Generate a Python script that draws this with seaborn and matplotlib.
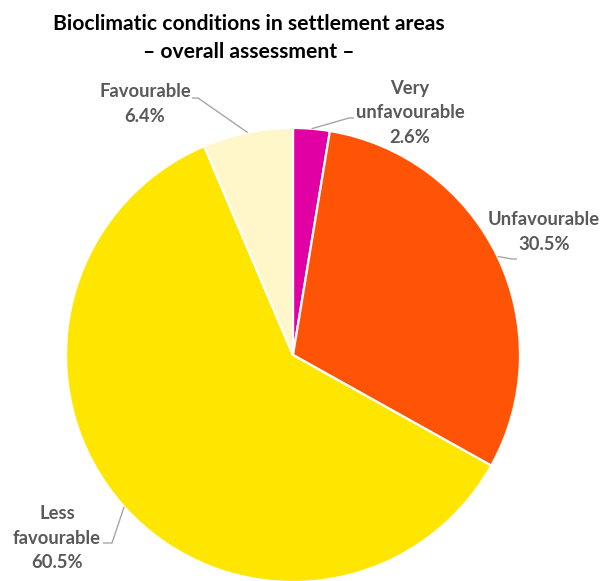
import numpy as np
import matplotlib
matplotlib.use("Agg")
import matplotlib.pyplot as plt
import seaborn as sns

# Share of settlement area per bioclimatic class
categories = ["Very\nunfavourable", "Unfavourable", "Less\nfavourable", "Favourable"]
shares = [2.6, 30.5, 60.5, 6.4]
colors = ["#E100A4", "#FF5306", "#FFE600", "#FFF6CA"]

# Label text anchors and leader-line elbows, in pixel units of the canvas
label_pos = [(410, 113), (544, 232), (57, 538), (145, 104)]
elbows = [(349, 118), (512, 259), (112, 543), (198, 98)]
tails = [(354, 118), (517, 259), (103, 543), (192, 98)]

sns.set_theme(style="white")
plt.rcParams["font.family"] = ["Lato", "DejaVu Sans"]

W, H = 603, 581
fig = plt.figure(figsize=(W / 100, H / 100), dpi=100)
ax = fig.add_axes([0, 0, 1, 1])

cx, cy, r = 293, H - 355, 227
wedges, _ = ax.pie(
    shares,
    colors=colors,
    startangle=90,
    counterclock=False,
    center=(cx, cy),
    radius=r,
    wedgeprops=dict(edgecolor="white", linewidth=1.6),
)

ax.set_xlim(0, W)
ax.set_ylim(0, H)
ax.set_aspect("equal")
ax.axis("off")

text_color = "#595959"
line_color = "#A6A6A6"
for w, cat, val, (lx, ly), (ex, ey), (tx, ty) in zip(
    wedges, categories, shares, label_pos, elbows, tails
):
    ang = np.deg2rad((w.theta1 + w.theta2) / 2)
    sx, sy = cx + r * np.cos(ang), cy + r * np.sin(ang)
    ax.plot([sx, ex, tx], [sy, H - ey, H - ty], color=line_color, lw=1.0,
            solid_capstyle="butt")
    ax.text(lx, H - ly, f"{cat}\n{val:.1f}%", ha="center", va="center",
            fontsize=13.2, fontweight="bold", color=text_color, linespacing=1.55)

fig.text(249 / W, 1 - 38 / H,
         "Bioclimatic conditions in settlement areas\n\u2013 overall assessment \u2013",
         ha="center", va="center", fontsize=15.2, fontweight="bold",
         color="black", linespacing=1.45)

fig.savefig("out.png", dpi=100, facecolor="white")
